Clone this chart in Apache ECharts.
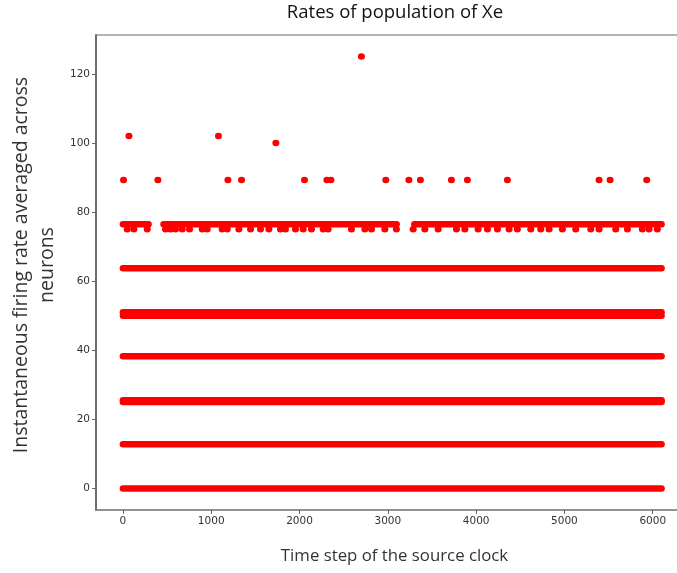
<!DOCTYPE html>
<html>
<head>
<meta charset="utf-8">
<script src="https://cdn.jsdelivr.net/npm/echarts@6/dist/echarts.min.js"></script>
<style>html,body{margin:0;padding:0;background:#fff;}#c{width:677px;height:573px;}</style>
</head>
<body>
<div id="c"></div>
<script>
// ---- data ----
const titleText = 'Rates of population of Xe';
const xTitle = 'Time step of the source clock';
const yTitle = 'Instantaneous firing rate averaged across\nneurons';
const xTicks = [0, 1000, 2000, 3000, 4000, 5000, 6000];
const yTicks = [0, 20, 40, 60, 80, 100, 120];
// dense bands (a dot at nearly every time step) : level and time extent
const bandLevels = [0, 12.75, 25, 25.5, 38.25, 50, 51, 63.75];
const bandStart = 0;
const bandEnd = 6100;
// the 76.5 row with its gaps
const row76Level = 76.5;
const row76Segments = [[0, 290], [460, 3100], [3300, 6100]];
// isolated dots just below (75)
const row75Level = 75;
const row75Times = [49, 124, 275, 482, 539, 596, 671, 754, 898, 954, 1124, 1181, 1313, 1445, 1558, 1653, 1784, 1841, 1954,
  2041, 2135, 2268, 2324, 2588, 2740, 2815, 2966, 3097, 3287, 3419, 3570, 3777, 3872, 4022,
  4128, 4241, 4373, 4467, 4619, 4732, 4826, 4977, 5128, 5298, 5392, 5581, 5713, 5882, 5958, 6052];
// outliers
const row89Level = 89.25;
const row89Times = [7, 396, 1189, 1343, 2056, 2310, 2355, 2977, 3238, 3369, 3720, 3901, 4354, 5392, 5517, 5932];
const row102Level = 102;
const row102Times = [68, 1082];
const row100Level = 100;
const row100Times = [1732];
const row125Level = 125;
const row125Times = [2701];

// ---- chart ----
const RED = '#ff0000';
const chart = echarts.init(document.getElementById('c'), null, {renderer: 'canvas'});
const series = [];
bandLevels.forEach(function (lv) {
  series.push({type: 'line', data: [[bandStart, lv], [bandEnd, lv]], symbol: 'none', silent: true,
    lineStyle: {color: RED, width: 6.5, cap: 'round'}, animation: false});
});
row76Segments.forEach(function (s) {
  series.push({type: 'line', data: [[s[0], row76Level], [s[1], row76Level]], symbol: 'none', silent: true,
    lineStyle: {color: RED, width: 6.5, cap: 'round'}, animation: false});
});
function dots(times, lv) {
  return {type: 'scatter', data: times.map(function (t) { return [t, lv]; }), symbol: 'circle', symbolSize: [7, 6.5],
    itemStyle: {color: RED, opacity: 1}, animation: false};
}
series.push(dots(row75Times, row75Level));
series.push(dots(row89Times, row89Level));
series.push(dots(row102Times, row102Level));
series.push(dots(row100Times, row100Level));
series.push(dots(row125Times, row125Level));

const tickLabel = {fontFamily: 'DejaVu Sans', fontSize: 10.5, color: '#333', formatter: function (v) { return String(v); }};
chart.setOption({
  animation: false,
  backgroundColor: '#fff',
  grid: {left: 96, top: 35, right: -11.5, bottom: 63, show: true, borderColor: '#9a9a9a', borderWidth: 1.5,
    containLabel: false, outerBoundsMode: 'none'},
  xAxis: {type: 'value', min: -305, max: 6405,
    axisLine: {show: true, onZero: false, lineStyle: {color: '#888', width: 1.5}},
    axisTick: {show: true, length: 4, customValues: xTicks, lineStyle: {color: '#666'}},
    axisLabel: Object.assign({customValues: xTicks, margin: 6}, tickLabel),
    splitLine: {show: false}},
  yAxis: {type: 'value', min: -6.25, max: 131.25,
    axisLine: {show: true, onZero: false, lineStyle: {color: '#555', width: 1.5}},
    axisTick: {show: true, length: 4, customValues: yTicks, lineStyle: {color: '#666'}},
    axisLabel: Object.assign({customValues: yTicks, margin: 6}, tickLabel),
    splitLine: {show: false}},
  graphic: [
    {type: 'text', x: 395, y: 13, style: {text: titleText, fontFamily: 'Open Sans', fontSize: 18.5, fill: '#111',
      textAlign: 'center', textVerticalAlign: 'middle'}},
    {type: 'text', x: 394.5, y: 556, style: {text: xTitle, fontFamily: 'Open Sans', fontSize: 16.8, fill: '#333',
      textAlign: 'center', textVerticalAlign: 'middle'}},
    {type: 'text', x: 34, y: 265, rotation: Math.PI / 2, style: {text: yTitle, fontFamily: 'Open Sans', fontSize: 19.5,
      fill: '#333', textAlign: 'center', textVerticalAlign: 'middle', lineHeight: 26}}
  ],
  series: series
});
</script>
</body>
</html>
